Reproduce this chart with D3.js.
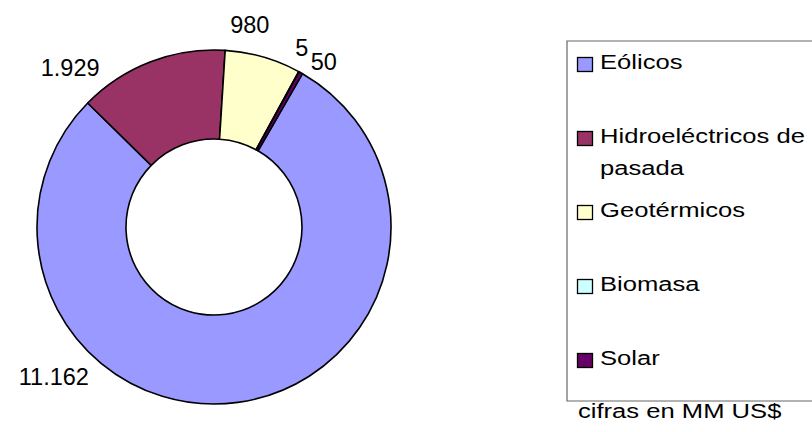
<!DOCTYPE html>
<html>
<head>
<meta charset="utf-8">
<script src="https://cdn.jsdelivr.net/npm/d3@7"></script>
<style>
  body { margin: 0; background: #fff; }
  svg { display: block; font-family: Arial, "Liberation Sans", sans-serif; }
</style>
</head>
<body>
<div id="chart"></div>
<script>
// data (cifras en MM US$)
var categories = ["Eólicos", "Hidroeléctricos de pasada", "Geotérmicos", "Biomasa", "Solar"];
var values = [11162, 1929, 980, 5, 50];
var colors = ["#9999FF", "#993366", "#FFFFCC", "#CCFFFF", "#660066"];
var note = "cifras en MM US$";

var width = 812, height = 432;
var cx = 214, cy = 227, outerR = 177, innerR = 88;
// first slice starts at 30 degrees like the original
var firstAngle = 30 * Math.PI / 180;
// where the value labels sit (angle in degrees, distance from centre)
var labelPolar = [[227, 219], [318, 215], [10, 206], [26, 200], [33.5, 199]];

var fmt = d3.formatLocale({decimal: ",", thousands: ".", grouping: [3], currency: ["", ""]}).format(",d");

var svg = d3.select("#chart")
    .append("svg")
    .attr("width", width)
    .attr("height", height);

var pie = d3.pie()
    .sort(null)
    .value(function(d) { return d; })
    .startAngle(firstAngle)
    .endAngle(firstAngle + 2 * Math.PI);

var arc = d3.arc()
    .innerRadius(innerR)
    .outerRadius(outerR);

var g = svg.append("g")
    .attr("transform", "translate(" + cx + "," + cy + ")");

var slices = pie(values);

g.selectAll("path")
    .data(slices)
    .enter().append("path")
    .attr("d", arc)
    .attr("fill", function(d, i) { return colors[i]; })
    .attr("stroke", "#000")
    .attr("stroke-width", 1.6)
    .attr("stroke-linejoin", "round");

//value labels
g.selectAll("text.val")
    .data(slices)
    .enter().append("text")
    .attr("class", "val")
    .attr("x", function(d, i) {
        return labelPolar[i][1] * Math.sin(labelPolar[i][0] * Math.PI / 180);
    })
    .attr("y", function(d, i) {
        return -labelPolar[i][1] * Math.cos(labelPolar[i][0] * Math.PI / 180) + 8.5;
    })
    .attr("text-anchor", "middle")
    .style("font-size", "23.5px")
    .style("fill", "#000")
    .text(function(d) { return fmt(d.value); });

// legend
var legX = 567, legY = 41, legH = 360, step = 74;
var stretch = 1.28;
var legend = svg.append("g");

legend.append("path")
    .attr("d", "M" + (width + 5) + "," + legY + "H" + legX + "V" + (legY + legH) + "H" + (width + 5))
    .attr("fill", "none")
    .attr("stroke", "#666")
    .attr("stroke-width", 1.2);

var item = legend.selectAll("g.item")
    .data(categories)
    .enter().append("g")
    .attr("class", "item")
    .attr("transform", function(d, i) { return "translate(" + legX + "," + (legY + 28 + i * step) + ")"; });

item.append("rect")
    .attr("x", 10.5)
    .attr("y", -11.5)
    .attr("width", 15)
    .attr("height", 14)
    .attr("fill", function(d, i) { return colors[i]; })
    .attr("stroke", "#000")
    .attr("stroke-width", 1.3);

// text in the original is drawn wider than normal, so stretch it sideways
item.each(function(d) {
    var parts = d === "Hidroeléctricos de pasada" ? ["Hidroeléctricos de", "pasada"] : [d];
    var it = d3.select(this);
    parts.forEach(function(p, k) {
        it.append("text")
            .attr("transform", "translate(33," + (k * 32) + ") scale(" + stretch + ",1)")
            .style("font-size", "20px")
            .style("fill", "#000")
            .text(p);
    });
});

svg.append("text")
    .attr("transform", "translate(578,418) scale(" + stretch + ",1)")
    .style("font-size", "20px")
    .style("fill", "#000")
    .text(note);
</script>
</body>
</html>
